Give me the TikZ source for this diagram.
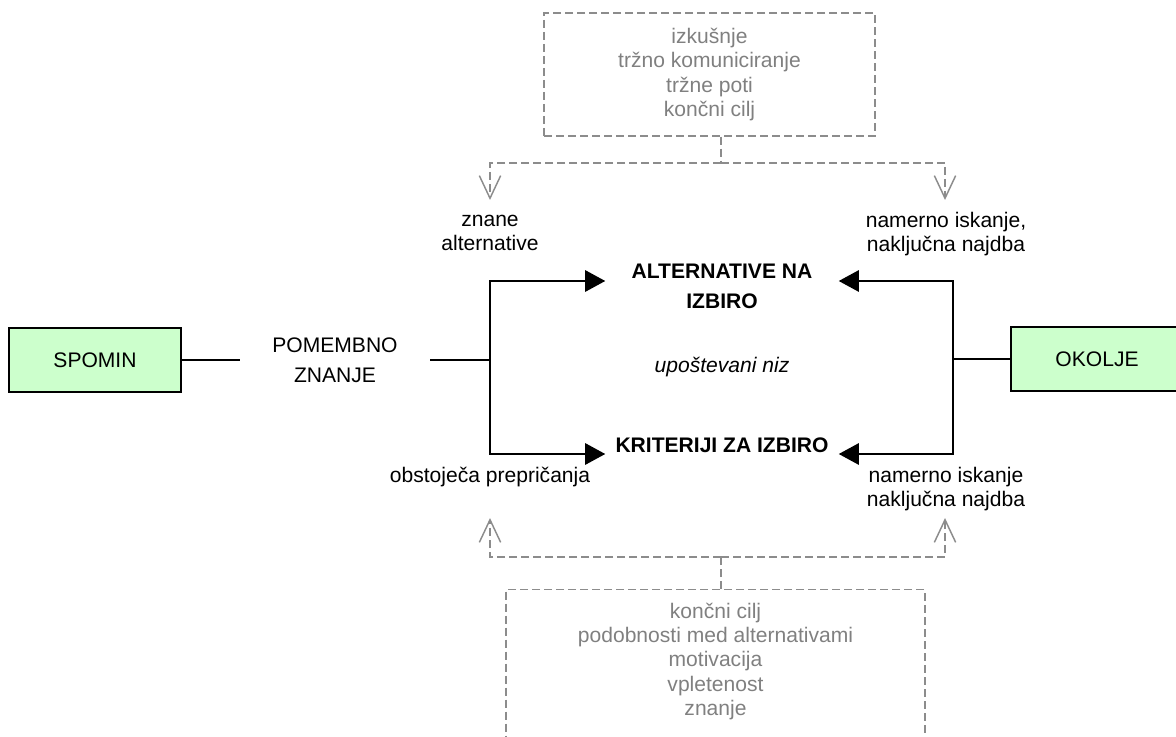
\documentclass[tikz,border=0pt]{standalone}
\usepackage{fontspec}
\setmainfont{Liberation Sans}
\usetikzlibrary{arrows.meta}
\definecolor{boxgreen}{HTML}{CCFFCC}
\definecolor{dashgray}{HTML}{8C8C8C}
\definecolor{textgray}{HTML}{808080}
\begin{document}
\begin{tikzpicture}[x=0.75pt,y=-0.75pt,
  every node/.style={font=\fontsize{15.8}{18.2}\selectfont, align=center, inner sep=0pt},
  greenbox/.style={draw=black, line width=1.1pt, fill=boxgreen, minimum width=129pt, minimum height=48pt},
  dashline/.style={draw=dashgray, line width=1.1pt, dash pattern=on 6pt off 3pt},
  dashbox/.style={dashline},
  openarrow/.style={dashline, -{Straight Barb[length=17pt,width=16pt,line width=1.1pt]}},
  solidline/.style={draw=black, line width=1.2pt},
  fillarrow/.style={solidline, -{Triangle[length=15pt,width=16pt]}},
  glabel/.style={text=textgray},
  widespaced/.style={font=\fontsize{15.8}{22.5}\selectfont},
  boldlabel/.style={font=\fontsize{15.8}{22.5}\selectfont\bfseries, minimum width=174.75pt}]
\useasboundingbox (0,0) rectangle (1176,737);
\clip (0,0) rectangle (1176,737);

% outer sources
\node[greenbox] (spomin) at (95,360) {SPOMIN};
\node[greenbox] (okolje) at (1097,359) {OKOLJE};
\node[widespaced, minimum width=142.5pt] (pomembno) at (335,360) {POMEMBNO\\ZNANJE};

% central set
\node[boldlabel] (alt) at (722,286) {ALTERNATIVE NA\\IZBIRO};
\node (niz) at (722,367) {\itshape upoštevani niz};
\node[boldlabel] (krit) at (722,445) {KRITERIJI ZA IZBIRO};

% side labels
\node (znane) at (490,233) {znane\\alternative};
\node (namernoA) at (946,234) {namerno iskanje,\\naključna najdba};
\node (obst) at (490,477) {obstoječa prepričanja};
\node (namernoB) at (946,489) {namerno iskanje\\naključna najdba};

% influence boxes
\node[dashbox, glabel, minimum width=248.25pt, minimum height=92.25pt] (topbox) at (709.5,74.5)
  {izkušnje\\tržno komuniciranje\\tržne poti\\končni cilj};
\node[dashbox, minimum width=314.25pt, minimum height=135pt, anchor=north] (botbox) at (715.5,589) {};
\node[glabel] (bottext) at (715.5,661.5)
  {končni cilj\\podobnosti med alternativami\\motivacija\\vpletenost\\znanje};

% solid connectors
\coordinate (lj) at (490,360);
\coordinate (rj) at (953,359);
\coordinate (rowalt) at (0,281);
\coordinate (rowkrit) at (0,454);
\draw[solidline] (spomin) -- (pomembno);
\draw[solidline] (pomembno) -- (lj);
\draw[fillarrow] (lj) |- (rowalt -| alt.west);
\draw[fillarrow] (lj) |- (rowkrit -| krit.west);
\draw[solidline] (okolje) -- (rj);
\draw[fillarrow] (rj) |- (rowalt -| alt.east);
\draw[fillarrow] (rj) |- (rowkrit -| krit.east);

% dashed influence connectors
\coordinate (tj) at (721,163);
\coordinate (tla) at (490,200);
\coordinate (tra) at (945,200);
\draw[dashline] (tj |- topbox.south) -- (tj);
\draw[openarrow] (tj) -| (tla);
\draw[openarrow] (tj) -| (tra);

\coordinate (bj) at (721,557);
\coordinate (bla) at (490,518);
\coordinate (bra) at (945,518);
\draw[dashline] (bj |- botbox.north) -- (bj);
\draw[openarrow] (bj) -| (bla);
\draw[openarrow] (bj) -| (bra);
\end{tikzpicture}
\end{document}
